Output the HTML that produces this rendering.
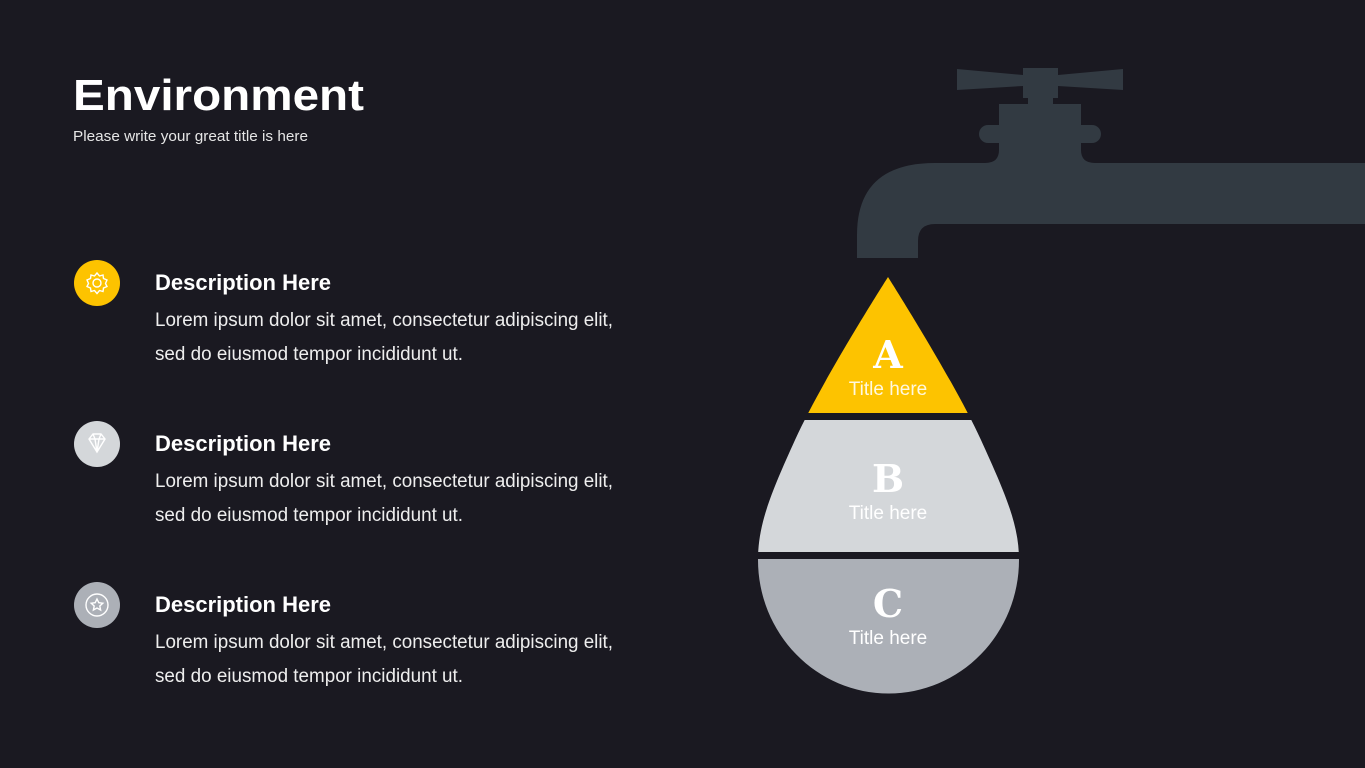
<!DOCTYPE html>
<html><head><meta charset="utf-8"><style>
html,body{margin:0;padding:0;background:#1a1921;}
svg{display:block;}
</style></head><body>
<svg width="1365" height="768" viewBox="0 0 1365 768" xmlns="http://www.w3.org/2000/svg">
<rect width="1365" height="768" fill="#1a1921"/>
<!-- Faucet -->
<g fill="#323a42">
  <path d="M957,69 L1023,75 L1058,75 L1123,69 L1123,90 L1058,86 L1058,96 L1023,96 L1023,86 L957,90 Z"/>
  <rect x="1023" y="68" width="35" height="30"/>
  <rect x="1028" y="94" width="25" height="14"/>
  <rect x="999" y="104" width="82" height="60"/>
  <rect x="979" y="125" width="122" height="18" rx="9"/>
  <path d="M985,163 Q999,163 999,150 L1081,150 Q1081,163 1095,163 Z"/>
  <path d="M935,163 L1365,163 L1365,224 L935,224 Q918,224 918,241 L918,258 L857,258 L857,235 Q857,163 935,163 Z"/>
</g>
<!-- Drop -->
<defs>
  <clipPath id="dc"><path d="M888,277 C876,296 820,385 795,440 C770,495 758,525 758,560 A130,133 0 0 0 1019,560 C1019,525 1006,495 981,440 C956,385 900,296 888,277 Z"/></clipPath>
</defs>
<g clip-path="url(#dc)">
  <rect x="740" y="270" width="300" height="143" fill="#fdc300"/>
  <rect x="740" y="420" width="300" height="132" fill="#d4d7da"/>
  <rect x="740" y="559" width="300" height="140" fill="#acb0b7"/>
</g>
<g fill="#ffffff" text-anchor="middle">
  <text x="888" y="368" font-family="'DejaVu Serif','Liberation Serif',serif" font-weight="bold" font-size="38">A</text>
  <text x="888" y="395" font-family="'Liberation Sans',sans-serif" font-size="19" fill="#fff8e0">Title here</text>
  <text x="888" y="492" font-family="'DejaVu Serif','Liberation Serif',serif" font-weight="bold" font-size="38">B</text>
  <text x="888" y="519" font-family="'Liberation Sans',sans-serif" font-size="19">Title here</text>
  <text x="888" y="617" font-family="'DejaVu Serif','Liberation Serif',serif" font-weight="bold" font-size="38">C</text>
  <text x="888" y="644" font-family="'Liberation Sans',sans-serif" font-size="19">Title here</text>
</g>
<!-- Title -->
<text x="73" y="110" fill="#fff" font-family="'Liberation Sans',sans-serif" font-weight="bold" font-size="44" textLength="291" lengthAdjust="spacingAndGlyphs">Environment</text>
<text x="73" y="141" fill="#e6e6e6" font-family="'Liberation Sans',sans-serif" font-size="14.5" textLength="235" lengthAdjust="spacingAndGlyphs">Please write your great title is here</text>
<!-- Items -->
<g font-family="'Liberation Sans',sans-serif">
  <circle cx="97" cy="283" r="23" fill="#fdc300"/>
  <g fill="none" stroke="#fff" stroke-width="1.4">
    <circle cx="97" cy="283" r="4"/>
    <path d="M97,273 l2.5,3 3.5,-1 0.5,3.5 3.5,1.5 -1.5,3.5 1.5,3 -3.5,1.5 -0.5,3.5 -3.5,-1 -2.5,3 -2.5,-3 -3.5,1 -0.5,-3.5 -3.5,-1.5 1.5,-3 -1.5,-3.5 3.5,-1.5 0.5,-3.5 3.5,1 Z"/>
  </g>
  <text x="155" y="290" fill="#fff" font-weight="bold" font-size="22" textLength="176" lengthAdjust="spacingAndGlyphs">Description Here</text>
  <text x="155" y="326" fill="#eee" font-size="19" textLength="458" lengthAdjust="spacingAndGlyphs">Lorem ipsum dolor sit amet, consectetur adipiscing elit,</text>
  <text x="155" y="360" fill="#eee" font-size="19" textLength="308" lengthAdjust="spacingAndGlyphs">sed do eiusmod tempor incididunt ut.</text>

  <circle cx="97" cy="444" r="23" fill="#d4d7da"/>
  <g fill="none" stroke="#fff" stroke-width="1.4">
    <path d="M89,439 L93,434 L101,434 L105,439 L97,452 Z M89,439 L105,439 M93,434 L95,439 L97,452 L99,439 L101,434"/>
  </g>
  <text x="155" y="451" fill="#fff" font-weight="bold" font-size="22" textLength="176" lengthAdjust="spacingAndGlyphs">Description Here</text>
  <text x="155" y="487" fill="#eee" font-size="19" textLength="458" lengthAdjust="spacingAndGlyphs">Lorem ipsum dolor sit amet, consectetur adipiscing elit,</text>
  <text x="155" y="521" fill="#eee" font-size="19" textLength="308" lengthAdjust="spacingAndGlyphs">sed do eiusmod tempor incididunt ut.</text>

  <circle cx="97" cy="605" r="23" fill="#acb0b7"/>
  <g fill="none" stroke="#fff" stroke-width="1.4">
    <circle cx="97" cy="605" r="11"/>
    <path d="M97,599 l1.8,3.7 4,0.5 -3,2.8 0.8,4 -3.6,-2 -3.6,2 0.8,-4 -3,-2.8 4,-0.5 Z"/>
  </g>
  <text x="155" y="612" fill="#fff" font-weight="bold" font-size="22" textLength="176" lengthAdjust="spacingAndGlyphs">Description Here</text>
  <text x="155" y="648" fill="#eee" font-size="19" textLength="458" lengthAdjust="spacingAndGlyphs">Lorem ipsum dolor sit amet, consectetur adipiscing elit,</text>
  <text x="155" y="682" fill="#eee" font-size="19" textLength="308" lengthAdjust="spacingAndGlyphs">sed do eiusmod tempor incididunt ut.</text>
</g>
</svg>
</body></html>
